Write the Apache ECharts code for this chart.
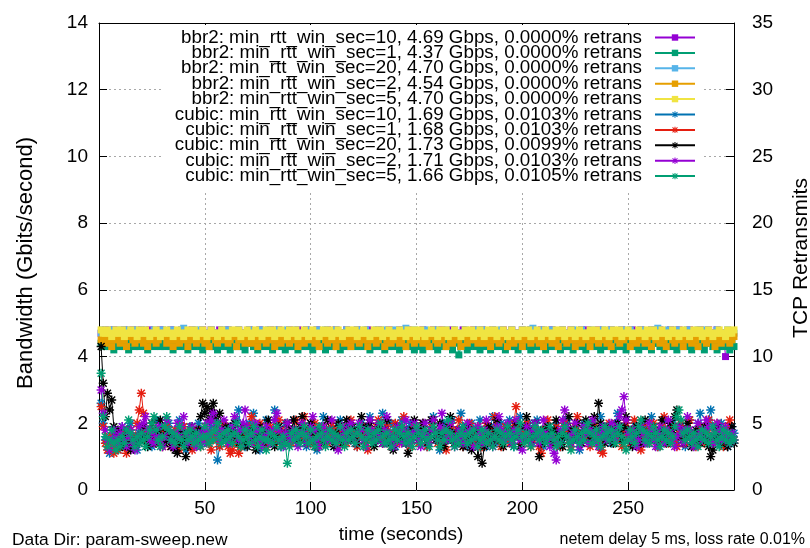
<!DOCTYPE html>
<html><head><meta charset="utf-8">
<script src="https://cdn.jsdelivr.net/npm/echarts@6/dist/echarts.min.js"></script>
<style>html,body{margin:0;padding:0;background:#fff}#c{width:810px;height:548px}</style>
</head><body><div id="c"></div>
<script>
// time in seconds (one sample per second)
const seconds = Array.from({length: 300}, (_, i) => i + 1);

const seriesNames = [
  "bbr2: min_rtt_win_sec=10, 4.69 Gbps, 0.0000% retrans",
  "bbr2: min_rtt_win_sec=1, 4.37 Gbps, 0.0000% retrans",
  "bbr2: min_rtt_win_sec=20, 4.70 Gbps, 0.0000% retrans",
  "bbr2: min_rtt_win_sec=2, 4.54 Gbps, 0.0000% retrans",
  "bbr2: min_rtt_win_sec=5, 4.70 Gbps, 0.0000% retrans",
  "cubic: min_rtt_win_sec=10, 1.69 Gbps, 0.0103% retrans",
  "cubic: min_rtt_win_sec=1, 1.68 Gbps, 0.0103% retrans",
  "cubic: min_rtt_win_sec=20, 1.73 Gbps, 0.0099% retrans",
  "cubic: min_rtt_win_sec=2, 1.71 Gbps, 0.0103% retrans",
  "cubic: min_rtt_win_sec=5, 1.66 Gbps, 0.0105% retrans"
];

const bbr2_sec10 = [
4.7,4.6,4.8,4.7,4.7,4.6,4.8,4.7,4.6,4.7,4.7,4.8,4.6,4.7,4.7,4.8,4.7,4.6,4.7,4.8,4.7,4.7,4.6,4.8,4.7,4.7,4.6,4.7,4.8,4.7,
4.6,4.7,4.7,4.8,4.6,4.7,4.7,4.6,4.8,4.7,4.7,4.6,4.7,4.8,4.7,4.6,4.7,4.7,4.8,4.6,4.7,4.7,4.8,4.7,4.6,4.7,4.8,4.7,4.6,4.7,
4.8,4.7,4.6,4.7,4.7,4.8,4.6,4.7,4.7,4.6,4.8,4.7,4.7,4.6,4.7,4.8,4.7,4.6,4.7,4.7,4.8,4.6,4.7,4.7,4.8,4.7,4.6,4.7,4.7,4.8,
4.7,4.6,4.7,4.8,4.7,4.7,4.6,4.8,4.7,4.7,4.6,4.7,4.8,4.7,4.6,4.7,4.7,4.8,4.6,4.7,4.7,4.8,4.7,4.6,4.7,4.7,4.8,4.7,4.6,4.7,
4.7,4.8,4.6,4.7,4.7,4.6,4.8,4.7,4.7,4.6,4.7,4.8,4.7,4.7,4.6,4.7,4.8,4.7,4.6,4.7,4.7,4.8,4.7,4.6,4.7,4.8,4.7,4.7,4.6,4.7,
4.6,4.7,4.8,4.7,4.7,4.6,4.7,4.8,4.6,4.7,4.7,4.8,4.7,4.6,4.7,4.7,4.8,4.6,4.7,4.7,4.6,4.8,4.7,4.7,4.6,4.7,4.8,4.7,4.6,4.7,
4.8,4.7,4.7,4.6,4.7,4.8,4.7,4.6,4.7,4.7,4.8,4.6,4.7,4.7,4.8,4.7,4.6,4.7,4.7,4.8,4.7,4.6,4.7,4.8,4.7,4.7,4.6,4.7,4.8,4.7,
4.7,4.6,4.7,4.8,4.7,4.6,4.7,4.7,4.8,4.6,4.7,4.7,4.8,4.7,4.6,4.7,4.7,4.8,4.6,4.7,4.8,4.7,4.7,4.6,4.7,4.8,4.7,4.6,4.7,4.7,
4.6,4.8,4.7,4.7,4.6,4.7,4.8,4.7,4.7,4.6,4.7,4.8,4.6,4.7,4.7,4.8,4.7,4.6,4.7,4.7,4.8,4.7,4.6,4.7,4.8,4.7,4.7,4.6,4.7,4.8,
4.7,4.7,4.6,4.8,4.7,4.7,4.6,4.7,4.8,4.7,4.6,4.7,4.7,4.8,4.6,4.7,4.7,4.8,4.7,4.6,4.7,4.8,4.7,4.6,4.7,4.0
];
const bbr2_sec1 = [
4.4,4.3,4.4,4.5,4.3,4.4,4.2,4.4,4.3,4.5,4.4,4.3,4.4,4.2,4.4,4.5,4.3,4.4,4.3,4.4,4.5,4.3,4.2,4.4,4.4,4.3,4.5,4.4,4.3,4.4,
4.3,4.4,4.5,4.3,4.2,4.4,4.4,4.3,4.5,4.4,4.3,4.2,4.4,4.5,4.3,4.4,4.4,4.3,4.2,4.4,4.5,4.4,4.3,4.3,4.4,4.2,4.4,4.5,4.3,4.4,
4.4,4.2,4.3,4.4,4.5,4.3,4.4,4.3,4.2,4.4,4.5,4.4,4.3,4.4,4.2,4.3,4.4,4.5,4.3,4.4,4.4,4.2,4.3,4.5,4.4,4.3,4.4,4.2,4.4,4.3,
4.5,4.3,4.4,4.2,4.4,4.3,4.5,4.4,4.3,4.4,4.2,4.4,4.3,4.5,4.4,4.3,4.2,4.4,4.4,4.3,4.5,4.3,4.4,4.2,4.4,4.3,4.4,4.5,4.3,4.4,
4.4,4.3,4.4,4.5,4.3,4.4,4.4,4.2,4.3,4.5,4.4,4.3,4.4,4.4,4.2,4.5,4.3,4.4,4.3,4.4,4.5,4.2,4.3,4.4,4.4,4.3,4.5,4.4,4.2,4.4,
4.3,4.4,4.2,4.4,4.5,4.3,4.4,4.3,4.4,4.2,4.4,4.5,4.3,4.4,4.4,4.3,4.2,4.4,4.5,4.05,4.3,4.4,4.4,4.2,4.3,4.5,4.4,4.3,4.4,4.2,
4.4,4.5,4.3,4.4,4.2,4.4,4.3,4.5,4.4,4.3,4.4,4.2,4.4,4.3,4.5,4.4,4.3,4.2,4.4,4.4,4.3,4.5,4.4,4.2,4.3,4.4,4.5,4.3,4.4,4.3,
4.2,4.4,4.4,4.3,4.5,4.4,4.3,4.2,4.4,4.5,4.3,4.4,4.4,4.2,4.3,4.4,4.5,4.3,4.4,4.2,4.4,4.3,4.5,4.4,4.3,4.4,4.2,4.4,4.3,4.5,
4.4,4.3,4.2,4.4,4.5,4.3,4.4,4.4,4.2,4.3,4.5,4.4,4.3,4.4,4.2,4.4,4.5,4.3,4.4,4.3,4.2,4.4,4.5,4.4,4.3,4.4,4.2,4.3,4.4,4.5,
4.3,4.4,4.2,4.4,4.3,4.5,4.4,4.3,4.4,4.2,4.4,4.5,4.3,4.4,4.3,4.2,4.4,4.5,4.4,4.3,4.4,4.2,4.3,4.4,4.5,4.3,4.4,4.2,4.4,4.3
];
const bbr2_sec20 = [
4.7,4.8,4.7,4.6,4.7,4.8,4.7,4.7,4.6,4.8,4.7,4.7,4.8,4.6,4.7,4.7,4.8,4.7,4.6,4.7,4.8,4.7,4.7,4.6,4.7,4.8,4.7,4.7,4.6,4.8,
4.7,4.6,4.7,4.8,4.7,4.7,4.6,4.7,4.8,4.85,4.7,4.6,4.7,4.7,4.8,4.6,4.7,4.8,4.7,4.7,4.6,4.7,4.8,4.7,4.6,4.7,4.7,4.8,4.7,4.6,
4.8,4.7,4.7,4.6,4.7,4.8,4.7,4.6,4.7,4.7,4.8,4.7,4.6,4.7,4.7,4.8,4.6,4.7,4.7,4.8,4.7,4.6,4.7,4.8,4.7,4.7,4.6,4.7,4.8,4.7,
4.6,4.7,4.8,4.7,4.7,4.6,4.7,4.8,4.7,4.6,4.7,4.7,4.8,4.7,4.6,4.7,4.8,4.7,4.7,4.6,4.7,4.8,4.7,4.6,4.7,4.7,4.8,4.6,4.7,4.7,
4.7,4.8,4.6,4.7,4.7,4.8,4.7,4.6,4.7,4.7,4.8,4.7,4.6,4.7,4.8,4.7,4.7,4.6,4.7,4.8,4.7,4.7,4.6,4.8,4.85,4.7,4.6,4.7,4.8,4.7,
4.7,4.6,4.7,4.8,4.7,4.7,4.6,4.7,4.8,4.7,4.6,4.7,4.7,4.8,4.7,4.6,4.7,4.8,4.7,4.7,4.6,4.7,4.8,4.7,4.6,4.7,4.7,4.8,4.7,4.6,
4.8,4.7,4.6,4.7,4.7,4.8,4.7,4.6,4.7,4.8,4.7,4.7,4.6,4.7,4.8,4.7,4.6,4.7,4.7,4.8,4.7,4.6,4.7,4.8,4.85,4.7,4.6,4.7,4.7,4.8,
4.7,4.6,4.7,4.8,4.7,4.7,4.6,4.7,4.8,4.7,4.6,4.7,4.7,4.8,4.7,4.6,4.7,4.8,4.7,4.7,4.6,4.7,4.8,4.7,4.6,4.7,4.7,4.8,4.7,4.6,
4.7,4.8,4.7,4.6,4.7,4.7,4.8,4.7,4.6,4.7,4.8,4.7,4.7,4.6,4.7,4.8,4.7,4.6,4.7,4.7,4.8,4.7,4.6,4.85,4.7,4.7,4.6,4.7,4.8,4.7,
4.6,4.7,4.8,4.7,4.7,4.6,4.7,4.8,4.7,4.6,4.7,4.7,4.8,4.7,4.6,4.7,4.8,4.7,4.7,4.6,4.7,4.8,4.7,4.6,4.7,4.7,4.8,4.7,4.6,4.7
];
const bbr2_sec2 = [
4.5,4.6,4.4,4.7,4.5,4.3,4.6,4.5,4.7,4.4,4.6,4.5,4.3,4.6,4.7,4.5,4.4,4.6,4.5,4.7,4.4,4.6,4.3,4.5,4.7,4.6,4.4,4.5,4.6,4.7,
4.6,4.4,4.5,4.7,4.3,4.5,4.6,4.4,4.7,4.5,4.6,4.3,4.5,4.7,4.6,4.4,4.5,4.6,4.7,4.4,4.5,4.3,4.6,4.7,4.5,4.4,4.6,4.5,4.7,4.6,
4.4,4.5,4.7,4.6,4.3,4.5,4.6,4.7,4.4,4.5,4.6,4.4,4.7,4.5,4.3,4.6,4.5,4.7,4.4,4.6,4.5,4.7,4.3,4.5,4.6,4.4,4.7,4.5,4.6,4.4,
4.7,4.5,4.6,4.3,4.5,4.7,4.4,4.6,4.5,4.7,4.6,4.4,4.5,4.3,4.6,4.7,4.5,4.4,4.6,4.7,4.5,4.3,4.6,4.5,4.7,4.4,4.6,4.5,4.3,4.7,
4.5,4.6,4.4,4.7,4.5,4.6,4.3,4.5,4.7,4.6,4.4,4.5,4.7,4.6,4.3,4.5,4.6,4.4,4.7,4.5,4.6,4.4,4.5,4.7,4.3,4.6,4.5,4.7,4.4,4.6,
4.5,4.7,4.4,4.6,4.5,4.3,4.6,4.7,4.5,4.4,4.6,4.5,4.7,4.3,4.6,4.5,4.4,4.7,4.6,4.5,4.3,4.6,4.7,4.4,4.5,4.6,4.7,4.5,4.4,4.6,
4.7,4.4,4.5,4.6,4.3,4.5,4.7,4.6,4.4,4.5,4.7,4.6,4.3,4.5,4.6,4.4,4.7,4.5,4.6,4.3,4.5,4.7,4.6,4.4,4.5,4.6,4.7,4.4,4.5,4.3,
4.6,4.5,4.7,4.4,4.6,4.5,4.3,4.6,4.7,4.5,4.4,4.6,4.5,4.7,4.3,4.5,4.6,4.4,4.7,4.5,4.6,4.3,4.5,4.7,4.6,4.4,4.5,4.6,4.7,4.4,
4.5,4.3,4.6,4.7,4.5,4.4,4.6,4.5,4.7,4.6,4.3,4.5,4.6,4.4,4.7,4.5,4.6,4.4,4.5,4.7,4.3,4.6,4.5,4.7,4.4,4.6,4.5,4.3,4.6,4.7,
4.5,4.4,4.6,4.7,4.5,4.3,4.6,4.5,4.7,4.4,4.6,4.5,4.3,4.6,4.7,4.5,4.4,4.6,4.5,4.7,4.3,4.5,4.6,4.4,4.7,4.5,4.6,4.4,4.5,4.6
];
const bbr2_sec5 = [
4.8,4.7,4.7,4.8,4.7,4.6,4.7,4.8,4.7,4.7,4.8,4.6,4.7,4.7,4.8,4.7,4.7,4.6,4.8,4.7,4.7,4.8,4.7,4.6,4.7,4.7,4.8,4.7,4.6,4.7,
4.7,4.8,4.7,4.7,4.6,4.7,4.8,4.7,4.7,4.6,4.7,4.8,4.7,4.7,4.8,4.6,4.7,4.7,4.8,4.7,4.6,4.7,4.8,4.7,4.7,4.6,4.7,4.8,4.7,4.7,
4.6,4.7,4.8,4.7,4.7,4.8,4.6,4.7,4.7,4.8,4.7,4.6,4.7,4.8,4.7,4.7,4.6,4.7,4.8,4.7,4.7,4.8,4.6,4.7,4.7,4.8,4.7,4.7,4.6,4.8,
4.7,4.7,4.8,4.6,4.7,4.7,4.8,4.7,4.6,4.7,4.8,4.7,4.7,4.6,4.7,4.8,4.7,4.7,4.8,4.6,4.7,4.7,4.8,4.7,4.6,4.7,4.7,4.8,4.7,4.7,
4.8,4.6,4.7,4.7,4.8,4.7,4.7,4.6,4.7,4.8,4.7,4.7,4.8,4.6,4.7,4.7,4.8,4.7,4.6,4.7,4.7,4.8,4.7,4.7,4.6,4.8,4.7,4.7,4.8,4.6,
4.7,4.8,4.7,4.6,4.7,4.7,4.8,4.7,4.7,4.6,4.8,4.7,4.7,4.8,4.6,4.7,4.7,4.8,4.7,4.7,4.6,4.7,4.8,4.7,4.7,4.8,4.6,4.7,4.7,4.8,
4.7,4.6,4.7,4.8,4.7,4.7,4.8,4.6,4.7,4.7,4.8,4.7,4.6,4.7,4.8,4.7,4.7,4.6,4.7,4.8,4.7,4.7,4.8,4.6,4.7,4.7,4.8,4.7,4.6,4.7,
4.8,4.7,4.7,4.6,4.7,4.8,4.7,4.7,4.8,4.6,4.7,4.7,4.8,4.7,4.6,4.7,4.8,4.7,4.7,4.6,4.7,4.8,4.7,4.7,4.8,4.6,4.7,4.7,4.8,4.7,
4.6,4.7,4.8,4.7,4.7,4.8,4.6,4.7,4.7,4.8,4.7,4.6,4.7,4.7,4.8,4.7,4.7,4.6,4.8,4.7,4.7,4.8,4.6,4.7,4.7,4.8,4.7,4.7,4.6,4.7,
4.8,4.7,4.7,4.6,4.7,4.8,4.7,4.7,4.6,4.7,4.8,4.7,4.7,4.8,4.6,4.7,4.7,4.8,4.7,4.6,4.7,4.7,4.8,4.7,4.7,4.6,4.8,4.7,4.7,4.8
];
const cubic_sec10 = [
2.6,2.0,1.5,1.3,1.1,1.6,1.8,1.4,1.2,1.7,1.9,1.5,1.3,1.8,2.0,1.6,1.4,1.2,1.7,1.9,1.5,1.6,1.8,1.4,1.3,1.7,2.1,1.6,1.5,1.9,
1.4,1.6,2.0,1.7,1.3,1.5,1.8,2.1,1.6,1.4,1.2,1.7,1.9,1.5,1.3,1.6,2.0,1.8,1.5,1.7,1.4,1.6,1.9,2.2,1.7,0.9,1.3,1.8,2.0,1.5,
1.7,1.9,1.4,1.6,2.1,2.4,1.8,1.5,1.3,1.7,2.0,1.6,2.3,1.9,1.5,1.2,1.6,1.8,2.1,1.7,1.4,1.6,2.4,1.9,1.5,1.3,1.7,2.0,1.6,1.4,
1.8,2.1,1.7,1.4,1.6,1.9,1.5,1.3,1.7,2.0,1.8,1.5,1.2,1.6,1.9,2.2,1.7,1.4,1.6,1.8,1.3,1.5,1.9,2.1,1.6,1.4,1.7,2.0,1.5,1.8,
1.6,1.3,1.7,2.0,1.8,1.5,1.9,2.2,1.6,1.4,1.7,1.5,1.9,2.3,1.8,1.4,1.6,2.0,1.7,1.3,1.5,1.9,2.1,1.6,1.4,1.8,2.0,1.5,1.7,1.9,
1.4,1.6,2.0,1.8,1.3,1.5,1.9,2.2,1.7,1.5,1.2,1.6,2.0,1.8,1.5,1.7,2.1,1.6,1.4,1.8,2.3,1.9,1.5,1.3,1.7,2.0,1.6,1.4,1.8,2.1,
1.7,1.5,1.3,1.6,1.9,2.2,1.8,1.4,1.6,2.0,1.7,1.5,1.8,2.1,1.6,1.3,1.7,1.9,2.2,1.8,1.5,1.7,2.0,1.6,1.4,1.8,2.1,1.7,1.5,1.3,
1.6,1.9,1.7,1.4,1.8,2.0,1.6,1.3,1.5,1.9,2.1,1.7,1.4,1.6,1.9,1.5,1.2,1.7,2.0,1.8,1.5,1.6,2.0,1.7,1.4,1.8,2.2,1.6,1.5,1.9,
1.7,1.4,1.6,2.0,2.3,1.8,1.5,1.7,2.1,1.6,1.4,1.8,2.0,1.5,1.3,1.7,1.9,1.6,1.4,1.8,2.2,1.7,1.5,1.3,1.6,1.9,2.1,1.7,1.5,1.8,
2.0,1.6,1.4,1.7,1.9,1.5,1.3,1.8,2.1,1.7,1.5,1.6,2.0,2.3,1.8,1.5,1.7,2.1,2.4,1.9,1.6,1.4,1.8,2.0,1.7,1.5,1.3,1.6,1.9,1.7
];
const cubic_sec1 = [
2.5,1.9,1.4,1.2,1.6,1.3,1.1,1.5,1.2,1.4,1.7,1.3,1.1,1.5,1.8,1.4,1.6,2.0,2.4,2.9,2.3,1.8,1.5,1.7,2.0,1.6,1.4,1.8,1.5,1.3,
1.7,1.9,1.5,1.3,1.6,1.8,1.4,1.2,1.6,1.9,1.5,1.7,1.4,1.2,1.5,1.8,1.6,1.3,1.5,1.9,1.7,1.4,1.2,1.6,1.8,1.5,1.3,1.7,2.0,1.6,
1.3,1.1,1.2,1.5,1.4,1.1,1.3,1.6,1.8,1.5,1.9,2.2,1.7,1.4,1.6,2.0,1.8,1.5,1.3,1.7,1.9,1.6,1.4,1.7,2.1,1.8,1.5,1.7,2.0,1.6,
1.4,1.8,2.1,1.7,1.5,1.9,2.2,1.8,1.6,1.4,1.7,2.0,1.6,1.3,1.5,1.9,1.7,1.4,1.6,2.0,1.8,1.5,1.3,1.7,1.9,1.6,1.4,1.8,2.1,1.7,
1.5,1.3,1.6,1.9,1.7,1.4,1.2,1.6,1.8,1.5,1.9,2.1,1.7,1.4,1.6,1.9,1.5,1.3,1.7,2.0,1.6,1.4,1.8,2.2,1.7,1.5,1.3,1.6,1.9,1.7,
1.4,1.8,2.0,1.6,1.3,1.5,1.9,2.1,1.7,1.4,1.6,1.8,1.5,1.2,1.6,1.9,1.7,1.4,1.8,2.1,1.6,1.3,1.5,1.8,2.0,1.7,1.4,1.6,1.9,1.5,
1.3,1.7,2.0,1.6,1.4,1.8,2.2,1.7,1.5,1.3,1.6,1.9,1.7,1.4,1.8,2.0,2.5,1.9,1.6,1.4,1.7,2.0,1.6,1.3,1.5,1.8,1.6,1.3,1.1,1.5,
1.8,2.1,1.7,1.4,1.6,1.9,1.5,1.3,1.7,2.0,1.8,1.5,1.3,1.6,1.9,2.2,1.7,1.4,1.6,1.8,1.5,1.3,1.6,1.9,1.7,1.4,1.2,1.1,1.5,1.8,
2.0,1.7,1.4,1.6,1.9,1.5,1.3,1.7,2.0,1.6,1.4,1.8,2.1,1.7,1.5,1.2,1.6,1.9,1.7,1.4,1.8,2.0,1.6,1.3,1.5,1.9,2.2,1.7,1.4,1.6,
1.9,1.5,1.3,1.7,2.0,1.6,1.4,1.8,2.1,1.7,1.5,1.3,1.6,1.9,1.7,1.4,1.8,2.1,1.6,1.4,1.7,2.0,1.8,1.5,1.3,1.6,1.9,2.1,1.6,1.5
];
const cubic_sec20 = [
4.3,3.2,2.2,2.9,2.4,2.7,1.9,1.6,1.8,1.5,1.3,1.6,1.8,1.4,1.2,1.5,1.3,1.6,1.4,1.7,1.9,1.5,1.3,1.6,2.0,1.7,1.4,1.8,2.1,1.6,
1.4,1.7,1.5,1.3,1.6,1.2,1.1,1.4,1.7,1.5,1.0,1.3,1.6,1.9,1.7,1.5,1.8,2.2,2.6,2.3,2.5,2.1,2.4,2.6,2.2,2.0,2.3,1.8,1.6,1.9,
1.7,1.5,1.8,2.0,1.6,1.4,1.7,1.9,1.5,1.3,1.6,1.8,1.5,1.2,1.6,1.9,1.7,1.4,1.8,2.1,1.7,1.5,1.3,1.6,1.9,1.5,1.4,1.7,2.0,1.6,
1.8,2.1,1.7,1.5,1.9,2.2,1.8,1.4,1.6,2.0,1.7,1.3,1.5,1.8,1.6,1.4,1.7,2.1,1.8,1.5,1.3,1.7,2.0,1.6,1.4,1.8,2.1,1.7,1.5,1.9,
1.6,1.4,1.8,2.2,1.9,1.5,1.7,2.0,1.6,1.3,1.5,1.9,1.7,1.4,1.8,2.1,1.6,1.4,1.2,1.6,1.9,1.7,1.5,1.8,1.4,1.1,1.5,1.8,2.1,1.7,
1.5,1.8,2.0,1.6,1.4,1.7,2.1,1.8,1.5,1.7,2.0,1.6,1.3,1.5,1.9,2.2,1.7,1.4,1.6,1.8,1.5,1.3,1.7,1.9,1.5,1.2,1.6,1.8,1.0,1.4,
0.8,1.3,1.7,1.9,1.6,1.4,1.8,2.1,1.7,1.5,1.3,1.6,1.9,1.7,1.4,1.8,2.0,1.6,1.3,1.5,1.9,2.2,1.8,1.5,1.7,2.0,1.6,1.0,1.4,1.8,
1.6,1.9,1.7,1.4,1.8,2.1,1.7,1.5,1.3,1.6,1.9,2.2,1.8,1.5,1.7,2.0,1.6,1.4,1.8,2.1,1.7,1.5,1.9,2.2,1.8,2.6,2.0,1.6,1.4,1.7,
1.9,1.6,1.4,1.8,2.0,1.7,1.5,1.9,2.2,1.8,1.5,1.3,1.7,1.9,1.6,1.4,1.8,2.1,1.7,1.5,1.6,1.9,1.7,1.4,1.8,2.1,1.6,1.4,1.7,2.0,
1.8,2.2,2.4,1.9,1.6,1.4,1.7,2.0,1.6,1.3,1.5,1.8,1.6,1.4,1.7,1.9,1.5,1.3,1.0,1.2,1.6,1.9,1.7,1.4,1.8,1.5,1.3,1.6,1.9,1.4
];
const cubic_sec2 = [
3.0,2.3,1.8,1.5,1.2,1.5,1.8,1.6,1.4,1.7,1.9,1.5,1.3,1.6,1.8,1.4,1.2,1.6,1.9,1.7,2.0,2.2,1.8,1.5,1.7,1.4,1.6,1.9,1.5,1.3,
1.6,2.1,1.8,1.5,1.3,1.7,2.0,1.6,1.9,2.2,1.7,1.4,1.6,1.9,1.5,1.3,1.7,1.6,1.4,1.8,2.0,1.7,2.1,2.3,2.0,1.7,1.5,1.8,2.1,1.7,
1.4,1.6,1.9,2.2,1.7,1.5,1.8,2.0,2.4,1.9,1.6,1.4,1.7,2.0,1.8,1.5,1.3,1.6,1.9,1.7,1.4,1.8,2.1,2.3,1.8,1.5,1.3,1.7,2.0,1.6,
1.5,1.8,1.6,1.3,1.7,2.0,1.7,1.4,1.6,1.9,2.2,1.8,1.5,1.3,1.6,1.9,1.7,1.5,1.8,2.1,1.6,1.4,1.2,1.6,1.9,1.7,1.5,1.8,2.0,1.6,
1.4,1.7,2.0,1.8,1.5,1.3,1.7,2.1,1.8,1.5,1.7,2.0,1.6,1.4,1.8,2.2,1.7,1.5,1.3,1.6,1.9,1.7,1.4,1.8,2.1,1.6,1.4,1.7,2.0,1.8,
1.5,1.3,1.7,2.0,1.6,1.4,1.8,2.1,1.7,1.5,1.9,2.3,1.8,1.5,1.7,2.0,1.6,1.3,1.5,1.8,1.6,1.4,1.7,2.0,1.8,1.5,1.3,1.6,1.9,1.7,
1.4,1.8,2.1,1.7,1.5,1.3,1.6,1.9,2.2,1.8,1.5,1.7,2.0,1.6,1.4,1.8,2.1,1.7,1.5,1.2,1.6,1.9,1.7,1.4,1.8,2.0,1.6,1.4,1.7,2.1,
1.7,1.5,1.3,1.6,1.1,0.9,1.4,1.8,2.1,2.4,1.9,1.6,1.4,1.7,2.0,1.6,1.3,1.5,1.9,1.7,1.4,1.8,2.1,1.7,1.5,1.3,1.6,1.9,1.7,1.5,
1.8,2.0,1.7,1.5,1.9,2.2,2.4,2.8,2.1,1.7,1.5,1.8,1.6,1.3,1.5,1.9,1.7,1.4,1.6,2.0,1.8,1.5,1.3,1.7,1.9,1.6,1.4,1.8,2.1,1.7,
1.5,1.3,1.6,1.9,1.7,1.4,1.8,2.2,1.8,1.5,1.3,1.6,2.0,1.7,1.5,1.8,2.1,1.9,1.6,1.4,1.7,2.0,1.8,1.5,1.7,1.9,1.6,1.4,1.7,1.5
];
const cubic_sec5 = [
3.5,2.2,1.6,1.3,1.5,1.8,1.4,1.2,1.5,1.3,1.6,1.4,1.8,2.1,1.7,1.5,1.3,1.6,1.4,1.7,1.5,1.3,1.6,1.8,2.0,2.2,1.8,1.5,1.3,1.6,
1.9,2.2,1.8,1.5,1.7,1.4,1.6,1.9,1.5,1.3,1.7,1.5,1.8,1.6,1.4,1.7,1.5,1.3,1.6,1.9,1.6,1.4,1.7,1.5,1.8,2.0,1.6,1.4,1.7,1.5,
1.8,1.6,1.4,1.7,2.0,1.6,1.3,1.5,1.8,1.6,1.4,1.7,1.9,1.5,1.3,1.6,1.8,1.5,1.2,1.5,1.7,1.4,1.6,1.9,1.5,1.3,1.6,1.4,0.8,1.3,
1.7,1.5,1.8,1.6,1.4,1.7,1.9,1.6,1.4,1.8,1.5,1.3,1.6,1.9,1.7,1.5,1.3,1.6,1.8,1.5,1.7,1.4,1.6,1.9,1.5,1.3,1.7,1.5,1.8,1.6,
1.4,1.7,1.9,1.6,1.3,1.5,1.8,1.6,1.4,1.7,1.5,1.8,2.0,1.6,1.4,1.7,1.5,1.3,1.6,1.8,1.5,1.7,1.9,1.6,1.4,1.7,1.5,1.3,1.6,1.9,
1.7,1.4,1.6,1.8,1.5,1.3,1.6,1.9,1.7,1.5,1.3,1.7,1.5,1.8,2.1,1.7,1.5,1.3,1.6,1.4,1.7,1.9,1.6,1.4,1.7,1.5,1.8,1.6,1.3,1.5,
1.8,1.6,1.4,1.7,1.5,1.3,1.6,1.8,1.5,1.7,1.4,1.6,1.9,1.7,1.5,1.3,1.6,1.8,2.0,1.6,1.4,1.7,1.5,1.3,1.6,1.9,1.7,1.5,1.8,1.6,
1.4,1.6,1.9,1.7,1.5,1.3,1.6,1.4,1.7,1.9,1.6,1.4,1.2,1.5,1.8,1.6,1.4,1.7,1.5,1.8,2.0,1.7,1.4,1.6,1.8,1.5,1.3,1.6,1.9,1.7,
1.5,1.8,1.6,1.4,1.7,1.9,1.6,1.4,1.2,1.5,1.8,1.6,1.4,1.7,1.9,2.1,1.8,1.5,1.7,1.4,1.6,1.9,1.7,1.5,1.3,1.6,1.8,1.5,1.7,1.4,
1.6,1.9,2.2,2.4,2.1,1.7,1.5,1.8,1.6,1.4,1.7,1.5,1.3,1.6,1.8,1.5,1.7,1.4,1.6,1.9,1.7,1.5,1.3,1.6,1.8,1.5,1.7,1.4,1.6,1.5
];

const allSeries = [bbr2_sec10, bbr2_sec1, bbr2_sec20, bbr2_sec2, bbr2_sec5,
                   cubic_sec10, cubic_sec1, cubic_sec20, cubic_sec2, cubic_sec5];
const colors = ['#9400d3','#009e73','#56b4e9','#e69f00','#f0e442',
                '#0072b2','#e51e10','#000000','#9400d3','#009e73'];
const asterisk = 'path://M0,4.2H10V5.8H0Z M4.2,0H5.8V10H4.2Z M0.6,1.7L1.7,0.6L9.4,8.3L8.3,9.4Z M8.3,0.6L9.4,1.7L1.7,9.4L0.6,8.3Z';
const FONT = 'Liberation Sans, Arial, Helvetica, sans-serif';

const chart = echarts.init(document.getElementById('c'), null, {renderer: 'canvas'});
const series = allSeries.map((vals, k) => ({
  name: seriesNames[k],
  type: 'line',
  xAxisIndex: 0, yAxisIndex: 0,
  data: vals.map((v, i) => [seconds[i], v]),
  symbol: k < 5 ? 'rect' : asterisk,
  symbolSize: k < 5 ? 7 : 9,
  showSymbol: true, showAllSymbol: true,
  lineStyle: {width: 1, color: colors[k]},
  itemStyle: {color: colors[k]},
  emphasis: {disabled: true},
  animation: false
}));

const dotted = {show: true, lineStyle: {color: '#a8a8a8', width: 1, type: [2, 3]}};
chart.setOption({
  backgroundColor: '#fff',
  animation: false,
  grid: {left: 99, right: 76, top: 23, bottom: 58, containLabel: false},
  xAxis: [
    {type: 'value', min: 0, max: 300, interval: 50, position: 'bottom',
     axisLine: {show: true, onZero: false, lineStyle: {color: '#000', width: 1}},
     axisTick: {show: true, inside: true, length: 8, lineStyle: {color: '#000'}},
     axisLabel: {show: true, color: '#000', fontSize: 19, fontFamily: FONT, margin: 9, showMinLabel: false, showMaxLabel: false},
     splitLine: dotted},
    {type: 'value', min: 0, max: 300, interval: 50, position: 'top',
     axisLine: {show: true, onZero: false, lineStyle: {color: '#000', width: 1}},
     axisTick: {show: true, inside: true, length: 8, lineStyle: {color: '#000'}},
     axisLabel: {show: false}, splitLine: {show: false}}
  ],
  yAxis: [
    {type: 'value', min: 0, max: 14, interval: 2, position: 'left',
     axisLine: {show: true, onZero: false, lineStyle: {color: '#000', width: 1}},
     axisTick: {show: true, inside: true, length: 8, lineStyle: {color: '#000'}},
     axisLabel: {color: '#000', fontSize: 19, fontFamily: FONT, margin: 11},
     splitLine: dotted},
    {type: 'value', min: 0, max: 35, interval: 5, position: 'right',
     axisLine: {show: true, onZero: false, lineStyle: {color: '#000', width: 1}},
     axisTick: {show: true, inside: true, length: 8, lineStyle: {color: '#000'}},
     axisLabel: {color: '#000', fontSize: 19, fontFamily: FONT, margin: 18},
     splitLine: {show: false}}
  ],
  legend: {
    orient: 'vertical', align: 'right', right: 108, top: 25,
    padding: [3, 6, 6, 12], backgroundColor: '#fff',
    itemWidth: 40, itemHeight: 8, itemGap: -3.6, selectedMode: false,
    textStyle: {fontFamily: FONT, fontSize: 18.8, color: '#000', lineHeight: 15.5, padding: [0, 8, 0, 0]},
    data: seriesNames
  },
  graphic: [
    {type: 'text', x: 26, y: 263, rotation: Math.PI / 2,
     style: {text: 'Bandwidth (Gbits/second)', align: 'center', verticalAlign: 'middle', font: '22px ' + FONT, fill: '#000'}},
    {type: 'text', x: 801, y: 258, rotation: Math.PI / 2,
     style: {text: 'TCP Retransmits', align: 'center', verticalAlign: 'middle', font: '21px ' + FONT, fill: '#000'}},
    {type: 'text', x: 401, y: 535,
     style: {text: 'time (seconds)', align: 'center', verticalAlign: 'middle', font: '19px ' + FONT, fill: '#000'}},
    {type: 'text', x: 12, y: 540,
     style: {text: 'Data Dir: param-sweep.new', align: 'left', verticalAlign: 'middle', font: '17.4px ' + FONT, fill: '#000'}},
    {type: 'text', x: 805, y: 540,
     style: {text: 'netem delay 5 ms, loss rate 0.01%', align: 'right', verticalAlign: 'middle', font: '16px ' + FONT, fill: '#000'}}
  ],
  series: series
});
</script>
</body></html>
